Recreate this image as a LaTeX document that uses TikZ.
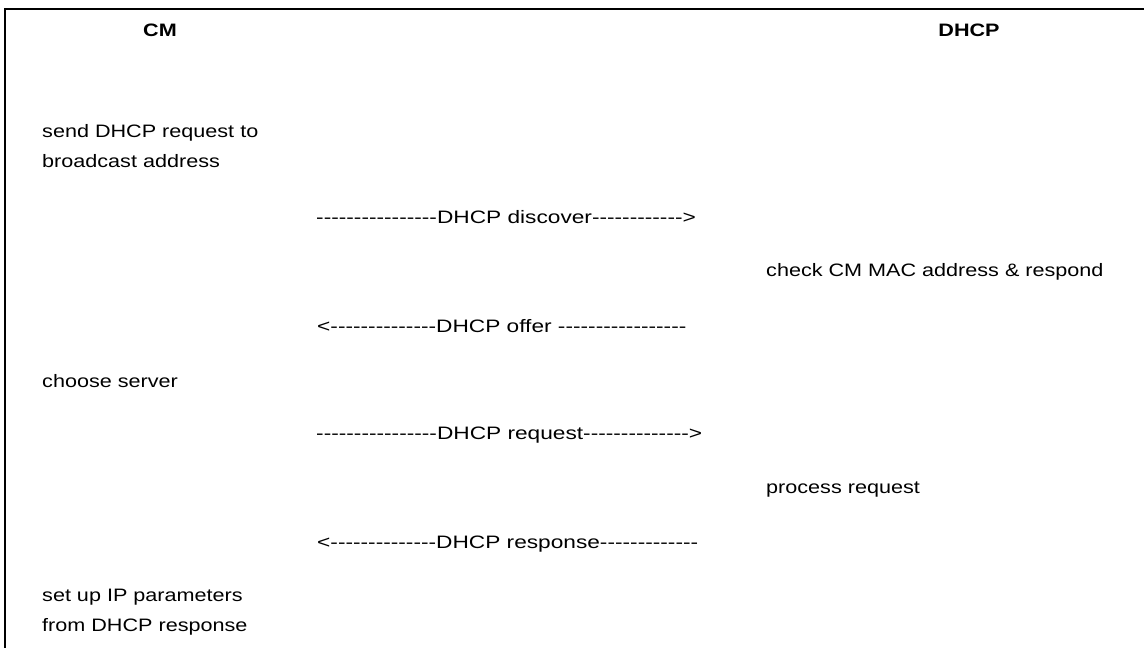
\documentclass[tikz,border=0pt]{standalone}
\usepackage{fontspec}
\setmainfont{Liberation Sans}[Ligatures=TeXOff, FakeStretch=1.2]
\newfontfamily\msgfont{Liberation Sans}[Ligatures=TeXOff, FakeStretch=1.26]
\usetikzlibrary{positioning}

\begin{document}
\begin{tikzpicture}[x=1pt, y=-1pt,
    actor/.style={font=\fontsize{18}{20}\selectfont\bfseries, inner sep=0pt},
    stepnote/.style={font=\fontsize{18}{30}\selectfont, align=left, anchor=west, inner sep=0pt},
    msgline/.style={font=\msgfont\fontsize{18}{20}\selectfont, anchor=west, inner sep=0pt},
]
\useasboundingbox (0,0) rectangle (1144,648);

% ===================== FRAME =====================
\draw[line width=2pt] (5,648) -- (5,9) -- (1144,9);

% ===================== ACTORS =====================
\node[actor] (cm) at (160, 30) {CM};
\node[actor] (dhcp) at (969, 30) {DHCP};

% ===================== CM SIDE =====================
\node[stepnote] (broadcast) at (42, 146) {send DHCP request to\\broadcast address};
\node[stepnote] (choose) at (42, 381) {choose server};
\node[stepnote] (setup) at (42, 612) {set up IP parameters\\from DHCP response};

% ===================== DHCP SIDE =====================
\node[stepnote] (check) at (766, 272) {check CM MAC address \& respond};
\node[stepnote] (process) at (766, 490) {process request};

% ===================== MESSAGES =====================
\node[msgline] (discover) at (316, 217) {----------------DHCP discover------------>};
\node[msgline] (offer) at (317, 326) {<--------------DHCP offer -----------------};
\node[msgline] (request) at (316, 435) {----------------DHCP request-------------->};
\node[msgline] (response) at (317, 544) {<--------------DHCP response-------------};

\end{tikzpicture}
\end{document}
